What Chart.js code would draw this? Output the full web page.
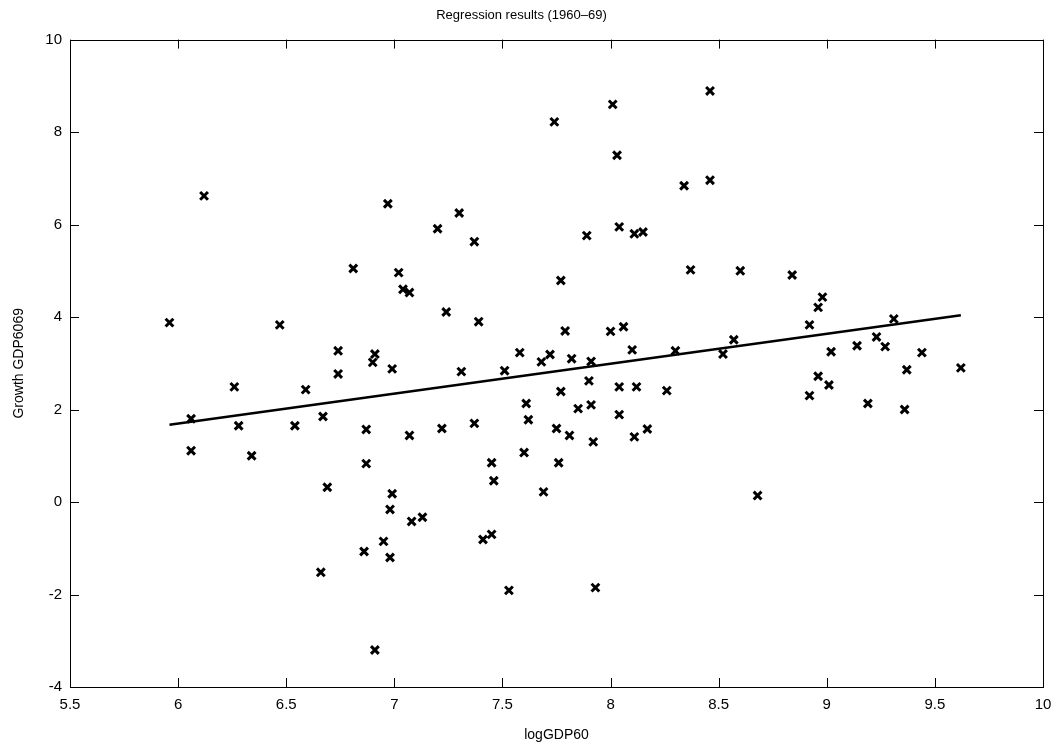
<!DOCTYPE html>
<html>
<head>
<meta charset="utf-8">
<title>Regression results (1960-69)</title>
<script src="https://cdn.jsdelivr.net/npm/chart.js@4/dist/chart.umd.min.js"></script>
<style>
    html, body { margin: 0; padding: 0; background: #fff; }
    #wrap { width: 1063px; height: 746px; }
</style>
</head>
<body>
<div id="wrap"><canvas id="chart" width="1063" height="746"></canvas></div>
<script>

    // scatter points
    var logGDP60 = [
        5.96, 6.06, 6.06, 6.12, 6.26, 6.28, 6.34, 6.47, 6.54, 6.59,
        6.67, 6.66, 6.69, 6.74, 6.74, 6.81, 6.86, 6.87, 6.87, 6.91,
        6.90, 6.91, 6.95, 6.97, 6.98, 6.99, 6.98, 6.99, 7.02, 7.04,
        7.07, 7.07, 7.08, 7.13, 7.20, 7.22, 7.24, 7.30, 7.31, 7.37,
        7.37, 7.39, 7.41, 7.45, 7.45, 7.46, 7.51, 7.53, 7.58, 7.60,
        7.61, 7.62, 7.68, 7.69, 7.72, 7.74, 7.75, 7.76, 7.77, 7.77,
        7.79, 7.81, 7.82, 7.85, 7.89, 7.90, 7.91, 7.91, 7.92, 7.93,
        8.00, 8.01, 8.03, 8.04, 8.04, 8.04, 8.06, 8.10, 8.11, 8.11,
        8.12, 8.15, 8.17, 8.26, 8.30, 8.34, 8.37, 8.46, 8.46, 8.52,
        8.57, 8.60, 8.68, 8.84, 8.92, 8.92, 8.96, 8.98, 8.96, 9.01,
        9.02, 9.14, 9.19, 9.23, 9.27, 9.31, 9.36, 9.37, 9.44, 9.62
    ]
    var growthGDP6069 = [
        3.88, 1.80, 1.11, 6.62, 2.49, 1.65, 1.00, 3.83, 1.65, 2.43,
        1.85, -1.52, 0.32, 3.27, 2.77, 5.05, -1.07, 1.57, 0.83, 3.20,
        3.02, -3.20, -0.85, 6.45, -0.16, 0.18, -1.20, 2.88, 4.96, 4.60,
        4.53, 1.44, -0.42, -0.33, 5.91, 1.59, 4.11, 6.25, 2.82, 5.63,
        1.70, 3.90, -0.81, -0.70, 0.85, 0.46, 2.84, -1.91, 3.23, 1.07,
        2.13, 1.78, 3.03, 0.22, 3.19, 8.22, 1.59, 0.85, 4.79, 2.39,
        3.70, 1.44, 3.10, 2.02, 5.76, 2.62, 3.04, 2.10, 1.30, -1.85,
        3.69, 8.60, 7.50, 5.95, 2.49, 1.89, 3.79, 3.29, 5.80, 1.41,
        2.49, 5.84, 1.58, 2.41, 3.27, 6.84, 5.02, 8.89, 6.96, 3.20,
        3.51, 5.00, 0.14, 4.91, 3.83, 2.30, 4.21, 4.43, 2.72, 2.53,
        3.25, 3.38, 2.13, 3.57, 3.36, 3.96, 2.00, 2.86, 3.23, 2.90
    ]

    // fitted line end points
    var fitX = [5.96, 9.62]
    var fitY = [1.67, 4.04]

    var xTicks = [5.5, 6, 6.5, 7, 7.5, 8, 8.5, 9, 9.5, 10]
    var yTicks = [-4, -2, 0, 2, 4, 6, 8, 10]

    var font = "'Liberation Sans', Arial, Helvetica, sans-serif"

    function toPoints(xs, ys) {
        return xs.map(function(x, i) { return { x: x, y: ys[i] } })
    }

    // matlab style box with inward ticks on all four sides
    var boxPlugin = {
        id: 'box',
        afterDraw(chart) {
            var { ctx, chartArea, scales } = chart
            var { left, right, top, bottom } = chartArea
            var len = 9
            ctx.save()
            ctx.strokeStyle = '#000'
            ctx.lineWidth = 1
            ctx.beginPath()
            xTicks.forEach(function(v) {
                var px = Math.round(scales.x.getPixelForValue(v)) + 0.5
                ctx.moveTo(px, bottom)
                ctx.lineTo(px, bottom - len)
                ctx.moveTo(px, top)
                ctx.lineTo(px, top + len)
            })
            yTicks.forEach(function(v) {
                var py = Math.round(scales.y.getPixelForValue(v)) + 0.5
                ctx.moveTo(left, py)
                ctx.lineTo(left + len, py)
                ctx.moveTo(right, py)
                ctx.lineTo(right - len, py)
            })
            ctx.stroke()
            ctx.strokeRect(Math.round(left) + 0.5, Math.round(top) + 0.5,
                Math.round(right - left), Math.round(bottom - top))
            ctx.restore()
        }
    }

    var el = document.getElementById('chart')
    var chart = new Chart(el, {
        type: 'scatter',
        data: {
            datasets: [
                {
                    label: 'data',
                    data: toPoints(logGDP60, growthGDP6069),
                    pointStyle: 'crossRot',
                    pointRadius: 5.5,
                    pointBorderWidth: 3,
                    borderColor: '#000',
                    backgroundColor: '#000',
                    showLine: false
                },
                {
                    label: 'fit',
                    data: toPoints(fitX, fitY),
                    showLine: true,
                    borderColor: '#000',
                    borderWidth: 2.5,
                    pointRadius: 0
                }
            ]
        },
        options: {
            responsive: false,
            animation: false,
            layout: { padding: { left: 0, right: 20, top: 0, bottom: 0 } },
            plugins: {
                legend: { display: false },
                tooltip: { enabled: false },
                title: {
                    display: true,
                    text: 'Regression results (1960\u201369)',
                    color: '#000',
                    font: { family: font, size: 13, weight: 'normal' },
                    padding: { top: 8, bottom: 16 }
                }
            },
            scales: {
                x: {
                    type: 'linear',
                    min: 5.5,
                    max: 10,
                    afterFit(scale) { scale.height = 59 },
                    afterBuildTicks(scale) {
                        scale.ticks = xTicks.map(function(v) { return { value: v } })
                    },
                    grid: { display: false, drawTicks: false },
                    border: { display: false },
                    ticks: {
                        color: '#000',
                        padding: 9,
                        maxRotation: 0,
                        font: { family: font, size: 15 },
                        callback(v) { return String(v) }
                    },
                    title: {
                        display: true,
                        text: 'logGDP60',
                        color: '#000',
                        padding: 2,
                        font: { family: font, size: 14 }
                    }
                },
                y: {
                    type: 'linear',
                    min: -4,
                    max: 10,
                    afterFit(scale) { scale.width = 70 },
                    afterBuildTicks(scale) {
                        scale.ticks = yTicks.map(function(v) { return { value: v } })
                    },
                    grid: { display: false, drawTicks: false },
                    border: { display: false },
                    ticks: {
                        color: '#000',
                        padding: 8,
                        font: { family: font, size: 15 },
                        callback(v) { return String(v) }
                    },
                    title: {
                        display: true,
                        text: 'Growth GDP6069',
                        color: '#000',
                        padding: 11,
                        font: { family: font, size: 14 }
                    }
                }
            }
        },
        plugins: [boxPlugin]
    })

</script>
</body>
</html>
